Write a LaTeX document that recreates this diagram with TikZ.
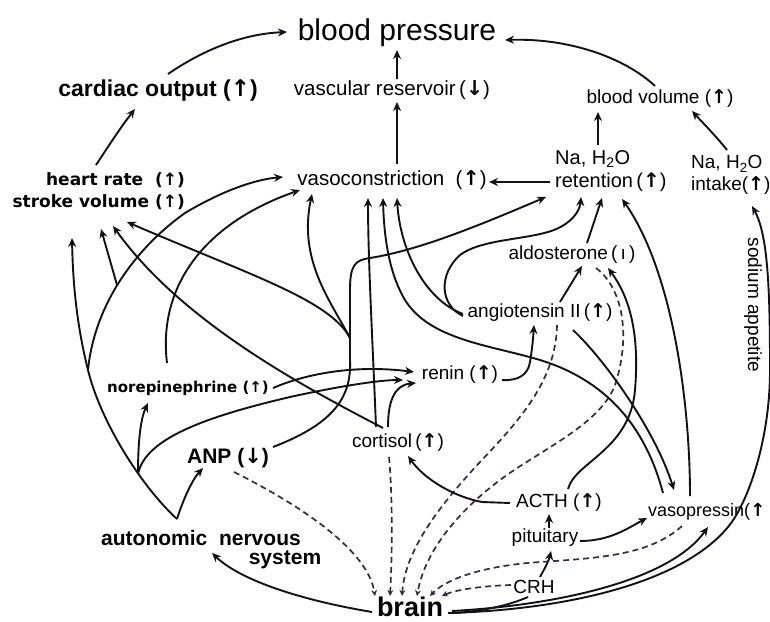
\documentclass[tikz,border=0pt]{standalone}
\usepackage{fontspec}
\setmainfont{Liberation Sans}
\newfontfamily\humfont{DejaVu Sans}
\newfontfamily\arrfont{DejaVu Sans}
\usetikzlibrary{arrows.meta,calc}
\newcommand\arrup{{\arrfont\bfseries ↑}}
\newcommand\arrdn{{\arrfont\bfseries ↓}}
\definecolor{dashc}{HTML}{3A2845}
\definecolor{inkc}{HTML}{141018}
\tikzset{
  lab/.style={inner sep=0pt, font=\fontsize{19}{22}\selectfont},
  conn/.style={line width=1.9pt, draw=inkc, -{Stealth[length=9pt,width=8pt]}},
  connp/.style={line width=1.9pt, draw=inkc},
  dsh/.style={line width=1.7pt, dash pattern=on 6pt off 4pt, draw=dashc, -{Stealth[length=6pt,width=6pt]}},
}
\begin{document}
\begin{tikzpicture}[x=1pt,y=-1pt]
\fill[white] (0,0) rectangle (770,621);
\useasboundingbox (0,0) rectangle (770,621);
% nodes
\node[lab, font=\fontsize{30}{36}\selectfont] (bp) at (397,33) {blood pressure};
\node[lab, font=\bfseries\fontsize{23}{28}\selectfont] (co) at (158,90) {cardiac output (\arrup)};
\node[lab, font=\fontsize{20.5}{24}\selectfont] (vr) at (392,90) {vascular reservoir\,(\arrdn)};
\node[lab] (bv) at (660,99) {blood volume (\arrup)};
\node[lab, align=left, anchor=west, font=\fontsize{20}{23}\selectfont] (ret) at (555,171) {Na, H\textsubscript{2}O\\retention\,(\arrup)};
\node[lab, align=left, anchor=west] (int) at (691,175) {Na, H\textsubscript{2}O\\intake(\arrup)};
\node[lab, align=right, anchor=east, font=\humfont\bfseries\fontsize{17}{22}\selectfont] (hrsv) at (185,191) {heart rate\ \ (\arrup)\\stroke volume (\arrup)};
\node[lab, font=\fontsize{20.5}{24}\selectfont] (vc) at (392,180) {vasoconstriction\ \ (\arrup)};
\node[lab] (ald) at (572,255) {aldosterone\,(\,ı\,)};
\node[lab] (ang) at (540,313) {angiotensin II\,(\arrup)};
\node[lab] (ren) at (460,375) {renin (\arrup)};
\node[lab] (cort) at (398,443) {cortisol\,(\arrup)};
\node[lab] (acth) at (559,502) {ACTH (\arrup)};
\node[lab] (pit) at (545,538) {pituitary};
\node[lab] (crh) at (534,587) {CRH};
\node[lab, font=\bfseries\fontsize{27}{30}\selectfont] (brain) at (410,607) {brain};
\node[lab, anchor=west, font=\fontsize{18}{22}\selectfont] (vp) at (648,512) {vasopressin(\arrup};
\node[lab, font=\bfseries\fontsize{21}{25}\selectfont] (ans) at (201,538) {autonomic\ \ nervous};
\node[lab, font=\bfseries\fontsize{21}{25}\selectfont] (ans2) at (285,560) {system};
\node[lab, font=\humfont\bfseries\fontsize{15}{18}\selectfont] (ne) at (188,388) {norepinephrine (\arrup)};
\node[lab, font=\bfseries\fontsize{21}{25}\selectfont] (anp) at (228,458) {ANP (\arrdn)};
\node[lab, rotate=-90] (sod) at (753,305) {sodium appetite};
% junction coordinates
\coordinate (anpj) at (350,338);
\coordinate (ansb) at (88,370);
\coordinate (ansc) at (117,285);
\coordinate (ansd) at (138,474);
% top part
\draw[conn] ($(co)+(10,-16)$) .. controls (200,52) and (240,34) .. ($(bp)+(-110,-1)$);
\draw[conn] ($(hrsv.east)+(-89,-26)$) .. controls (108,147) and (120,128) .. ($(co)+(-23,19)$);
\draw[conn] ($(vr)+(5,-11)$) -- ($(bp)+(0,17)$);
\draw[conn] ($(vc)+(5,-16)$) -- ($(vr)+(5,12)$);
\draw[conn] ($(bv)+(-5,-13)$) .. controls (625,58) and (570,38) .. ($(bp)+(108,7)$);
\draw[conn] ($(ret.west)+(43,-26)$) -- ($(bv)+(-62,13)$);
\draw[conn] ($(int.west)+(36,-25)$) .. controls (715,135) and (702,122) .. ($(bv)+(32,12)$);
\draw[conn] ($(ret.west)+(-5,11)$) -- ($(vc)+(97,2)$);
% right side
\draw[conn] ($(brain)+(38,6)$) .. controls (560,610) and (680,585) .. (728,527)
  .. controls (748,503) and (770,440) .. (770,370)
  .. controls (770,290) and (768,235) .. ($(int.west)+(61,31)$);
\draw[conn] ($(brain)+(42,4)$) .. controls (560,605) and (670,580) .. ($(vp.west)+(60,15)$);
\draw[conn] ($(vp.west)+(42,-16)$) .. controls (690,400) and (672,270) .. ($(ret.west)+(67,28)$);
\draw[conn] ($(pit)+(35,3)$) .. controls (610,541) and (628,528) .. ($(vp.west)+(-1,6)$);
\draw[conn] ($(pit)+(4,-10)$) -- ($(acth)+(-10,12)$);
\draw[conn] ($(crh)+(6,-10)$) .. controls (545,568) and (549,560) .. ($(pit)+(6,13)$);
\draw[connp] ($(brain)+(42,6)$) .. controls (480,612) and (510,605) .. ($(crh)+(-6,10)$);
% dashed into brain
\draw[dsh] ($(anp)+(6,14)$) .. controls (300,505) and (368,550) .. ($(brain)+(-35,-11)$);
\draw[dsh] ($(cort)+(-9,14)$) .. controls (393,500) and (392,560) .. ($(brain)+(-20,-11)$);
\draw[dsh] ($(ang)+(17,12)$) .. controls (556,380) and (520,420) .. (480,462)
  .. controls (440,505) and (405,550) .. ($(brain)+(-8,-11)$);
\draw[dsh] ($(ald)+(24,13)$) .. controls (625,290) and (630,340) .. (615,385)
  .. controls (600,425) and (540,450) .. (500,480)
  .. controls (460,510) and (425,550) .. ($(brain)+(7,-11)$);
\draw[dsh] ($(vp.west)+(34,14)$) .. controls (650,555) and (600,558) .. (540,562)
  .. controls (480,566) and (445,580) .. ($(brain)+(20,-11)$);
\draw[dsh] ($(crh)+(-23,-2)$) .. controls (480,586) and (455,590) .. ($(brain)+(32,-11)$);
% hormone links
\draw[conn] ($(acth)+(-49,1)$) -- (482,502) .. controls (455,497) and (425,480) .. ($(cort)+(10,13)$);
\draw[conn] ($(acth)+(9,-13)$) .. controls (575,462) and (630,450) .. (635,390)
  .. controls (640,330) and (628,295) .. ($(ald)+(36,13)$);
\draw[conn] ($(ang)+(20,-11)$) -- ($(ald)+(10,11)$);
\draw[conn] ($(ald)+(15,-12)$) -- ($(ret.west)+(47,27)$);
\draw[conn] ($(ren)+(42,5)$) .. controls (518,381) and (528,375) .. (530,362)
  .. controls (532,350) and (533,340) .. ($(ang)+(-6,12)$);
\draw[conn] ($(ang)+(-77,3)$) .. controls (440,305) and (438,275) .. (460,255)
  .. controls (480,240) and (520,240) .. (548,232)
  .. controls (572,225) and (580,210) .. ($(ret.west)+(26,26)$);
\draw[conn] ($(ang)+(-77,1)$) .. controls (425,300) and (400,250) .. ($(vc)+(5,18)$);
\draw[conn] ($(vp.west)+(15,-19)$) .. controls (645,425) and (605,380) .. (540,360)
  .. controls (490,345) and (430,340) .. (405,300)
  .. controls (390,275) and (384,240) .. ($(vc)+(-9,18)$);
\draw[conn] ($(ang)+(33,17)$) .. controls (605,360) and (655,430) .. ($(vp.west)+(26,-22)$);
\draw[conn] ($(cort)+(-22,-16)$) .. controls (373,350) and (368,260) .. ($(vc)+(-24,18)$);
\draw[conn] ($(cort)+(-10,-16)$) .. controls (388,400) and (395,385) .. ($(ren)+(-44,8)$);
\draw[conn] ($(cort)+(-15,-15)$) .. controls (300,385) and (180,320) .. ($(hrsv.east)+(-72,35)$);
% ANP
\draw[conn] ($(anp)+(45,-11)$) .. controls (330,425) and (352,400) .. (350,360) -- (350,290)
  .. controls (350,265) and (355,260) .. (370,258)
  .. controls (420,250) and (480,225) .. ($(ret.west)+(-9,26)$);
\draw[conn] (anpj) .. controls (330,300) and (298,260) .. ($(vc)+(-80,14)$);
\draw[conn] (anpj) .. controls (330,300) and (250,275) .. ($(hrsv.east)+(-58,31)$);
% autonomic nervous system
\draw[conn] ($(ans)+(-24,-19)$) .. controls (140,485) and (100,420) .. (ansb)
  .. controls (78,330) and (73,290) .. ($(hrsv.east)+(-113,47)$);
\draw[conn] (ansb) .. controls (95,300) and (140,245) .. (185,213)
  .. controls (215,195) and (250,180) .. ($(vc)+(-109,-3)$);
\draw[conn] (ansc) -- ($(hrsv.east)+(-84,38)$);
\draw[conn] (ansd) .. controls (138,445) and (140,420) .. ($(ne)+(-40,15)$);
\draw[conn] (ansd) .. controls (145,440) and (200,418) .. (290,397)
  .. controls (340,386) and (380,380) .. ($(ren)+(-57,5)$);
\draw[conn] ($(ne)+(-21,-25)$) .. controls (158,290) and (200,225) .. ($(vc)+(-92,10)$);
\draw[conn] ($(ne)+(85,0)$) .. controls (310,372) and (360,365) .. ($(ren)+(-46,-3)$);
\draw[conn] ($(ans)+(-24,-19)$) .. controls (183,500) and (192,480) .. ($(anp)+(-25,10)$);
\draw[conn] ($(brain)+(-38,5)$) .. controls (300,600) and (240,580) .. ($(ans)+(11,15)$);
\end{tikzpicture}
\end{document}
